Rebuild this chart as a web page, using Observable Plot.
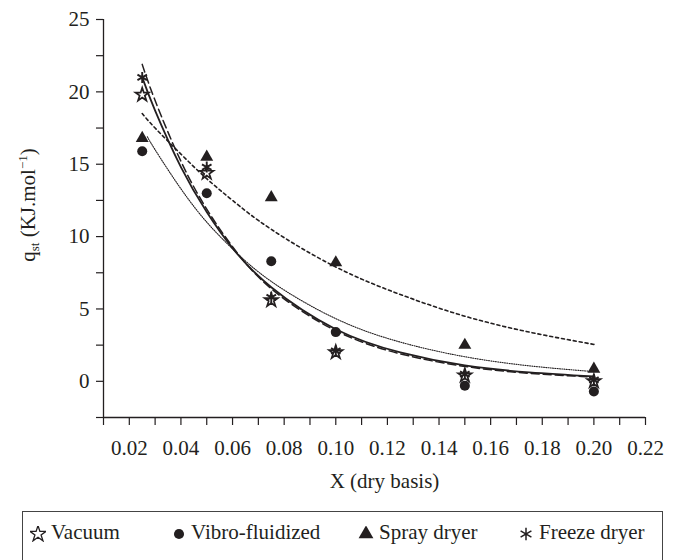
<!DOCTYPE html>
<html>
<head>
<meta charset="utf-8">
<script src="https://cdn.jsdelivr.net/npm/d3@7"></script>
<script src="https://cdn.jsdelivr.net/npm/@observablehq/plot@0.6"></script>
<style>
  html, body { margin: 0; padding: 0; background: #fff; }
  #wrap { position: relative; width: 685px; height: 560px; overflow: hidden; }
  #legend { position: absolute; left: 22px; top: 511px; width: 641px; height: 80px;
            border: 1px solid #444; box-sizing: border-box; font-family: "Liberation Serif", serif;
            font-size: 21px; color: #231f20; }
  .item { position: absolute; top: 8px; white-space: nowrap; line-height: 24px; }
  .icon { position: absolute; top: 14px; }
</style>
</head>
<body>
<div id="wrap"></div>
<script>
// ---- data ----
const seriesNames = ["Vacuum", "Vibro-fluidized", "Spray dryer", "Freeze dryer"];
const xPts = [0.025, 0.05, 0.075, 0.10, 0.15, 0.20];
const vacuum = [19.8, 14.4, 5.6, 2.0, 0.4, 0.0];
const vibro  = [15.9, 13.0, 8.3, 3.4, -0.3, -0.7];
const spray  = [16.8, 15.5, 12.7, 8.2, 2.5, 0.85];
const freeze = [21.0, 14.8, 5.8, 2.1, 0.5, 0.1];

// fitted trend curves
const fitX      = [0.025, 0.03, 0.04, 0.05, 0.06, 0.075, 0.10, 0.125, 0.15, 0.175, 0.20];
const vacuumFit = [21.0, 18.7, 14.8, 11.7, 9.2, 6.5, 3.6, 2.0, 1.1, 0.62, 0.34];
const freezeFit = [21.9, 19.4, 15.2, 11.9, 9.3, 6.4, 3.5, 1.9, 1.03, 0.55, 0.30];
const sprayFit  = [18.5, 17.5, 15.7, 14.0, 12.5, 10.5, 7.9, 6.0, 4.5, 3.4, 2.55];
const vibroFitX = [0.027, 0.03, 0.04, 0.05, 0.06, 0.075, 0.10, 0.125, 0.15, 0.175, 0.20];
const vibroFit  = [16.9, 16.0, 13.3, 11.0, 9.15, 6.9, 4.33, 2.71, 1.70, 1.07, 0.67];

// axes
const xTicks = [0.01,0.02,0.03,0.04,0.05,0.06,0.07,0.08,0.09,0.10,0.11,0.12,0.13,0.14,0.15,0.16,0.17,0.18,0.19,0.20,0.21,0.22];
const xTickLabels = ["0.02","0.04","0.06","0.08","0.10","0.12","0.14","0.16","0.18","0.20","0.22"];
const yTicks = [-2.5,0,2.5,5,7.5,10,12.5,15,17.5,20,22.5,25];
const yTickLabels = ["0","5","10","15","20","25"];
const xLabel = "X (dry basis)";

const ink = "#231f20";
const font = "Liberation Serif";

const pts = (ys) => xPts.map((x, i) => ({x, y: ys[i]}));
const fit = (xs, ys) => xs.map((x, i) => ({x, y: ys[i]}));

const xFmt = d => { const s = d.toFixed(2); return xTickLabels.includes(s) ? s : ""; };
const yFmt = d => { const s = String(d); return yTickLabels.includes(s) ? s : ""; };

const chart = Plot.plot({
  width: 685,
  height: 505,
  marginLeft: 103,
  marginRight: 40,
  marginTop: 19,
  marginBottom: 88,
  x: {domain: [0.01, 0.22]},
  y: {domain: [-2.5, 25]},
  style: {fontFamily: font, fontSize: "21px", color: ink, background: "white"},
  marks: [
    Plot.axisX({ticks: xTicks, tickFormat: xFmt, tickSize: 8, tickPadding: 15, label: null, stroke: ink, strokeWidth: 1.2}),
    Plot.axisY({ticks: yTicks, tickFormat: yFmt, tickSize: 7, tickPadding: 7, label: null, stroke: ink, strokeWidth: 1.2}),
    Plot.ruleY([-2.5], {stroke: ink, strokeWidth: 1.3}),
    Plot.ruleX([0.01], {stroke: ink, strokeWidth: 1.3}),
    Plot.line(fit(fitX, sprayFit), {x: "x", y: "y", stroke: ink, strokeWidth: 1.6, strokeDasharray: "3,3", curve: "natural"}),
    Plot.line(fit(vibroFitX, vibroFit), {x: "x", y: "y", stroke: ink, strokeWidth: 1.1, strokeDasharray: "1,1.3", curve: "natural"}),
    Plot.line(fit(fitX, freezeFit), {x: "x", y: "y", stroke: ink, strokeWidth: 1.5, strokeDasharray: "8,4", curve: "natural"}),
    Plot.line(fit(fitX, vacuumFit), {x: "x", y: "y", stroke: ink, strokeWidth: 1.8, curve: "natural"}),
    Plot.dot(pts(vibro), {x: "x", y: "y", symbol: "circle", r: 5, fill: ink, stroke: "none"}),
    Plot.dot(pts(spray), {x: "x", y: "y", symbol: "triangle", r: 4.8, fill: ink, stroke: "none"}),
    Plot.dot(pts(vacuum), {x: "x", y: "y", symbol: "star", r: 4.2, fill: "white", stroke: ink, strokeWidth: 1.7}),
    Plot.dot(pts(freeze), {x: "x", y: "y", symbol: "asterisk", r: 5.2, fill: "none", stroke: ink, strokeWidth: 1.9}),
    Plot.text([xLabel], {frameAnchor: "bottom", dy: 70, dx: 10, fontSize: 21, fill: ink})
  ]
});

document.getElementById("wrap").appendChild(chart);

// y-axis label with subscript / superscript
const ylab = d3.select(chart).append("text")
  .attr("transform", "translate(35,205) rotate(-90)")
  .attr("text-anchor", "middle")
  .attr("fill", ink)
  .style("font-family", font)
  .style("font-size", "21px");
ylab.append("tspan").text("q");
ylab.append("tspan").attr("dy", 4).style("font-size", "13px").text("st");
ylab.append("tspan").attr("dy", -4).text(" (KJ.mol");
ylab.append("tspan").attr("dy", -8).style("font-size", "13px").text("−1");
ylab.append("tspan").attr("dy", 8).text(")");

// legend
const legend = d3.select("#wrap").append("div").attr("id", "legend");
const symbols = [d3.symbolStar, d3.symbolCircle, d3.symbolTriangle, d3.symbolAsterisk];
const iconX = [7, 148, 335, 495];
const textX = [28, 168, 356, 516];
const iconSize = [80, 80, 95, 110];
seriesNames.forEach((name, i) => {
  const svg = legend.append("svg").attr("class", "icon")
    .attr("width", 16).attr("height", 16)
    .style("left", iconX[i] + "px");
  const p = svg.append("path")
    .attr("transform", "translate(8,8)")
    .attr("d", d3.symbol(symbols[i], iconSize[i])());
  if (i === 0) p.attr("fill", "white").attr("stroke", ink).attr("stroke-width", 1.3);
  else if (i === 3) p.attr("fill", "none").attr("stroke", ink).attr("stroke-width", 1.5);
  else p.attr("fill", ink);
  legend.append("span").attr("class", "item").style("left", textX[i] + "px").text(name);
});
</script>
</body>
</html>
